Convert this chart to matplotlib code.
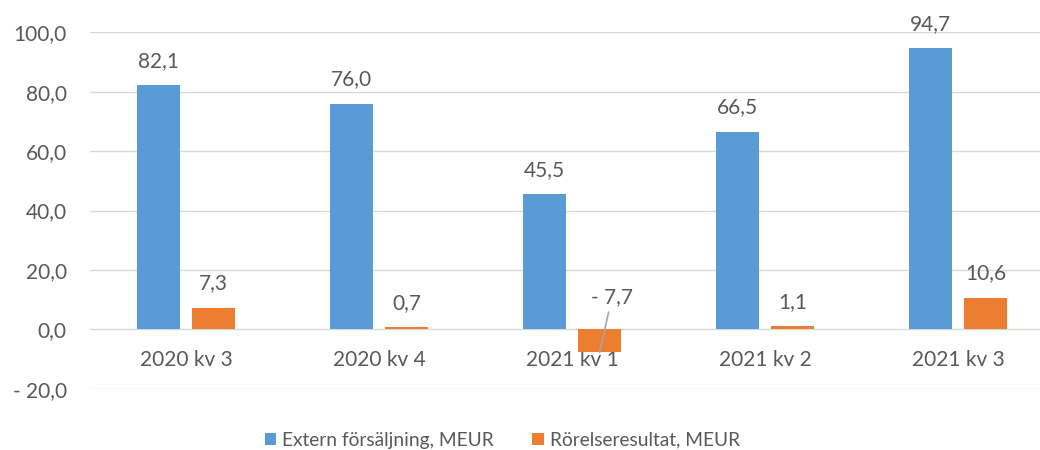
import matplotlib
matplotlib.use("Agg")
import matplotlib.pyplot as plt
import numpy as np

categories = ["2020 kv 3", "2020 kv 4", "2021 kv 1", "2021 kv 2", "2021 kv 3"]
sales = [82.1, 76.0, 45.5, 66.5, 94.7]
result = [7.3, 0.7, -7.7, 1.1, 10.6]
series_names = ["Extern försäljning, MEUR", "Rörelseresultat, MEUR"]
yticks = [-20, 0, 20, 40, 60, 80, 100]

BLUE = "#5b9bd5"
ORANGE = "#ed7d31"
TXT = "#595959"
GRID = "#d9d9d9"

plt.rcParams['font.family'] = ['Lato', 'DejaVu Sans']
FS = 15

def fmt(v):
    s = f"{abs(v):.1f}".replace(".", ",")
    return ("- " + s) if v < 0 else s

fig = plt.figure(figsize=(10.4, 4.5), dpi=100)
ax = fig.add_axes([0.0861, 0.1362, 0.9139, 0.792])

x = np.arange(len(categories))
w = 0.224
off = 0.1435
b1 = ax.bar(x - off, sales, w, color=BLUE, label=series_names[0], zorder=3)
b2 = ax.bar(x + off, result, w, color=ORANGE, label=series_names[1], zorder=3)

ax.set_ylim(-20, 100)
ax.set_xlim(-0.5, 4.425)
ax.set_yticks(yticks)
ax.set_yticklabels([fmt(v) for v in yticks])
ax.yaxis.grid(True, color=GRID, linewidth=1.0, zorder=0)
ax.set_axisbelow(True)
for s in ["top", "right", "left"]:
    ax.spines[s].set_visible(False)
ax.spines["bottom"].set_position(("data", 0))
ax.spines["bottom"].set_visible(False)
ax.set_xticks(x)
ax.set_xticklabels(categories)
ax.tick_params(axis="x", length=0, pad=15, labelsize=FS, labelcolor=TXT)
ax.tick_params(axis="y", length=0, pad=16.5, labelsize=FS, labelcolor=TXT)

for xi, v in zip(x, sales):
    ax.annotate(fmt(v), (xi - off, v), xytext=(0, 17.5), textcoords="offset points",
                ha="center", va="center", fontsize=FS, color=TXT)
for xi, v in zip(x, result):
    if v >= 0:
        ax.annotate(fmt(v), (xi + off, v), xytext=(0, 17.5), textcoords="offset points",
                    ha="center", va="center", fontsize=FS, color=TXT)
    else:
        ax.annotate(fmt(v), xy=(xi + off, v), xytext=(xi + off + 0.064, 11.0),
                    textcoords="data", ha="center", va="center", fontsize=FS, color=TXT,
                    arrowprops=dict(arrowstyle="-", color="#a6a6a6", lw=1.2,
                                    shrinkA=2, shrinkB=0), zorder=4)

leg = fig.legend(handles=[b1, b2], loc="center", bbox_to_anchor=(0.483, 0.022),
                 ncol=2, frameon=False, fontsize=13.8, handlelength=0.6, handleheight=0.6,
                 handletextpad=0.3, columnspacing=2.0)
for t in leg.get_texts():
    t.set_color(TXT)

fig.savefig("out.png", dpi=100)
